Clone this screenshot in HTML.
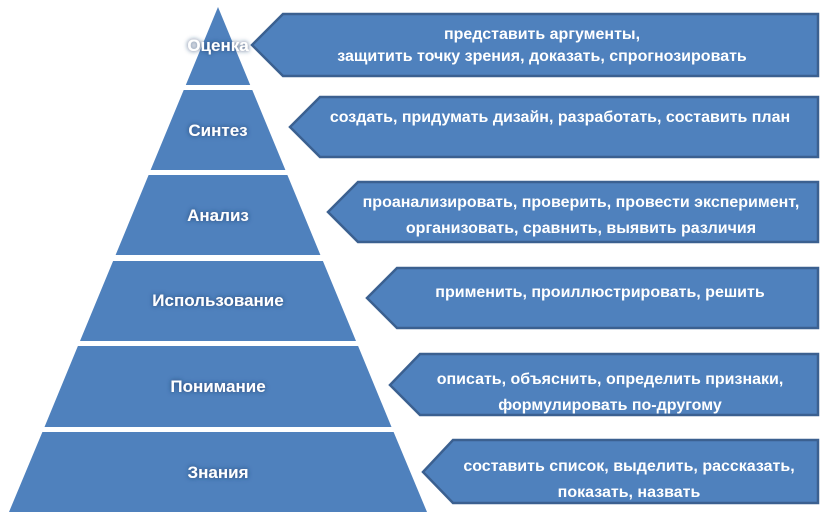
<!DOCTYPE html>
<html><head><meta charset="utf-8"><style>
html,body{margin:0;padding:0;background:#fff;width:830px;height:514px;overflow:hidden}
svg text{font-family:"Liberation Sans",sans-serif;font-weight:bold;fill:#fff}
</style></head><body>
<svg width="830" height="514" viewBox="0 0 830 514">
<defs>
<filter id="g" x="-20%" y="-50%" width="140%" height="200%"><feGaussianBlur in="SourceAlpha" stdDeviation="2.5" result="b"/><feFlood flood-color="#1f3d6b" flood-opacity="0.9"/><feComposite in2="b" operator="in" result="s"/><feMerge><feMergeNode in="s"/><feMergeNode in="SourceGraphic"/></feMerge></filter>
</defs>
<g fill="#4f81bd">
<polygon points="218,7 250.2,85 185.8,85"/>
<polygon points="183.7,90 252.3,90 285.4,170 150.6,170"/>
<polygon points="148.6,175 287.4,175 320.4,255 115.6,255"/>
<polygon points="113.1,261 322.9,261 356,341 80,341"/>
<polygon points="77.9,346 358.1,346 391.5,427 44.5,427"/>
<polygon points="42.4,432 393.6,432 427,512 9,512"/>
</g>
<g fill="#4f81bd" stroke="#3b6090" stroke-width="2.5">
<polygon points="252,45 283,14 818,14 818,76 283,76"/>
<polygon points="290,127 320,97 818,97 818,157 320,157"/>
<polygon points="328,212 358,182 818,182 818,242 358,242"/>
<polygon points="367,298 397,268 818,268 818,328 397,328"/>
<polygon points="390,385 420,354 818,354 818,415 420,415"/>
<polygon points="423,472 453,440 818,440 818,503 453,503"/>
</g>
<g font-size="17" text-anchor="middle" filter="url(#g)">
<text x="218" y="51">Оценка</text>
<text x="218" y="136">Синтез</text>
<text x="218" y="221">Анализ</text>
<text x="218" y="306">Использование</text>
<text x="218" y="392">Понимание</text>
<text x="218" y="478">Знания</text>
</g>
<g font-size="16" text-anchor="middle">
<text x="542" y="39">представить аргументы,</text>
<text x="542" y="61">защитить точку зрения, доказать, спрогнозировать</text>
<text x="560" y="122">создать, придумать дизайн, разработать, составить план</text>
<text x="581" y="207">проанализировать, проверить, провести эксперимент,</text>
<text x="581" y="233">организовать, сравнить, выявить различия</text>
<text x="600" y="297">применить, проиллюстрировать, решить</text>
<text x="610" y="384">описать, объяснить, определить признаки,</text>
<text x="610" y="410">формулировать по-другому</text>
<text x="629" y="471">составить список, выделить, рассказать,</text>
<text x="629" y="497">показать, назвать</text>
</g>
</svg>
</body></html>
